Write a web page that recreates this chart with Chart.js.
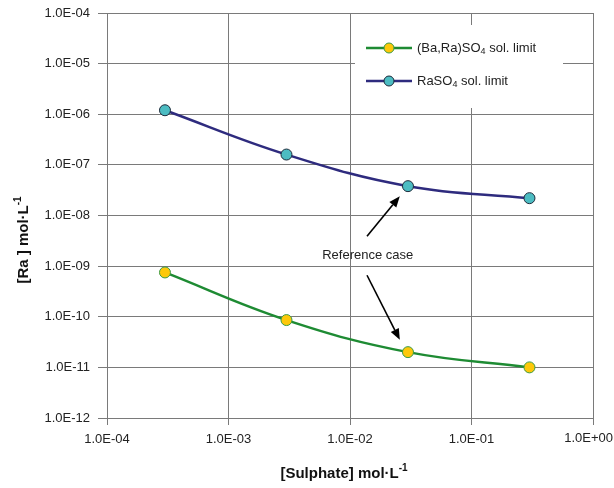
<!DOCTYPE html>
<html>
<head>
<meta charset="utf-8">
<script src="https://cdn.jsdelivr.net/npm/chart.js@4.4.1/dist/chart.umd.min.js"></script>
<style>
  html, body { margin: 0; padding: 0; background: #fff; }
  #wrap { width: 614px; height: 488px; }
</style>
</head>
<body>
<div id="wrap"><canvas id="chart" width="614" height="488"></canvas></div>
<script>
// sulphate concentration (mol/L)
const sulphate = [3e-4, 3e-3, 3e-2, 3e-1];
// Ra concentration limits (mol/L)
const baRaLimit = [7.5e-10, 8.6e-11, 2.0e-11, 1.0e-11];
const raSO4Limit = [1.2e-6, 1.6e-7, 3.8e-8, 2.2e-8];
const xTicks = [1e-4, 1e-3, 1e-2, 1e-1, 1e0];
const yTicks = [1e-12, 1e-11, 1e-10, 1e-9, 1e-8, 1e-7, 1e-6, 1e-5, 1e-4];

// "Reference case" note + arrows, in data units
const noteText = "Reference case";
const notePos = [1.4e-2, 1.65e-9];
const arrows = [
    [[1.38e-2, 3.9e-9], [2.57e-2, 2.4e-8]],
    [[1.38e-2, 6.6e-10], [2.57e-2, 3.5e-11]]
];

const FONT = "'Liberation Sans', Arial, sans-serif";

function sci(v) {
    const e = Math.round(Math.log10(v));
    const sign = e < 0 ? "-" : "+";
    return "1.0E" + sign + String(Math.abs(e)).padStart(2, "0");
}

function pts(ys) {
    return sulphate.map((x, i) => ({ x: x, y: ys[i] }));
}

// draw text with a subscript "4" after "SO"
function drawSub(ctx, parts, x, y, size) {
    parts.forEach(p => {
        if (p.sub) {
            ctx.font = `${size - 4}px ${FONT}`;
            ctx.fillText(p.t, x, y + 4);
        } else {
            ctx.font = `${size}px ${FONT}`;
            ctx.fillText(p.t, x, y);
        }
        x += ctx.measureText(p.t).width;
    });
}

function arrow(ctx, x1, y1, x2, y2) {
    const a = Math.atan2(y2 - y1, x2 - x1);
    const hl = 11, hw = 4.5;
    const bx = x2 - hl * Math.cos(a), by = y2 - hl * Math.sin(a);
    ctx.beginPath();
    ctx.moveTo(x1, y1);
    ctx.lineTo(bx, by);
    ctx.stroke();
    ctx.beginPath();
    ctx.moveTo(x2, y2);
    ctx.lineTo(bx + hw * Math.sin(a), by - hw * Math.cos(a));
    ctx.lineTo(bx - hw * Math.sin(a), by + hw * Math.cos(a));
    ctx.closePath();
    ctx.fill();
}

const extras = {
    id: "extras",
    beforeDatasetsDraw(chart) {
        const ctx = chart.ctx;
        // legend box (white, covers the grid)
        ctx.save();
        ctx.fillStyle = "#fff";
        ctx.fillRect(355, 25, 208, 83);
        const rows = [
            { ds: chart.data.datasets[0], parts: [{ t: "(Ba,Ra)SO" }, { t: "4", sub: true }, { t: " sol. limit" }] },
            { ds: chart.data.datasets[1], parts: [{ t: "RaSO" }, { t: "4", sub: true }, { t: " sol. limit" }] }
        ];
        rows.forEach((r, i) => {
            const y = 48 + i * 33;
            ctx.strokeStyle = r.ds.borderColor;
            ctx.lineWidth = 2.5;
            ctx.beginPath();
            ctx.moveTo(366, y);
            ctx.lineTo(412, y);
            ctx.stroke();
            ctx.beginPath();
            ctx.arc(389, y, 5, 0, Math.PI * 2);
            ctx.fillStyle = r.ds.pointBackgroundColor;
            ctx.fill();
            ctx.lineWidth = 1;
            ctx.strokeStyle = r.ds.pointBorderColor;
            ctx.stroke();
            ctx.fillStyle = "#222";
            ctx.textBaseline = "middle";
            ctx.textAlign = "left";
            drawSub(ctx, r.parts, 417, y, 13);
        });
        ctx.restore();
    },
    afterDraw(chart) {
        const ctx = chart.ctx;
        const xs = chart.scales.x, ys = chart.scales.y;
        ctx.save();
        // last x label is pulled inside the canvas, as in the original
        const last = xTicks[xTicks.length - 1];
        ctx.fillStyle = "#222";
        ctx.font = `13px ${FONT}`;
        ctx.textAlign = "right";
        ctx.textBaseline = "middle";
        ctx.fillText(sci(last), 613, xs.top + 20.5);
        // note and arrows
        ctx.font = `13px ${FONT}`;
        ctx.textAlign = "center";
        ctx.fillText(noteText, xs.getPixelForValue(notePos[0]), ys.getPixelForValue(notePos[1]));
        ctx.strokeStyle = "#000";
        ctx.fillStyle = "#000";
        ctx.lineWidth = 1.6;
        arrows.forEach(a => {
            arrow(ctx, xs.getPixelForValue(a[0][0]), ys.getPixelForValue(a[0][1]),
                xs.getPixelForValue(a[1][0]), ys.getPixelForValue(a[1][1]));
        });
        // axis titles
        ctx.fillStyle = "#111";
        ctx.font = `bold 15px ${FONT}`;
        ctx.textAlign = "left";
        ctx.textBaseline = "alphabetic";
        const xt = "[Sulphate] mol·L";
        const xw = ctx.measureText(xt).width;
        ctx.font = `bold 10px ${FONT}`;
        const sw = ctx.measureText("-1").width;
        let x0 = 344 - (xw + sw) / 2;
        ctx.font = `bold 15px ${FONT}`;
        ctx.fillText(xt, x0, 478);
        ctx.font = `bold 10px ${FONT}`;
        ctx.fillText("-1", x0 + xw, 471);

        ctx.translate(28, 240);
        ctx.rotate(-Math.PI / 2);
        ctx.font = `bold 15px ${FONT}`;
        const yt = "[Ra ] mol·L";
        const yw = ctx.measureText(yt).width;
        let y0 = -(yw + sw) / 2;
        ctx.fillText(yt, y0, 0);
        ctx.font = `bold 10px ${FONT}`;
        ctx.fillText("-1", y0 + yw, -7);
        ctx.restore();
    }
};

new Chart(document.getElementById("chart"), {
    type: "line",
    data: {
        datasets: [
            {
                label: "(Ba,Ra)SO4 sol. limit",
                data: pts(baRaLimit),
                borderColor: "#1e8b33",
                borderWidth: 2.5,
                pointBackgroundColor: "#fdc80a",
                pointBorderColor: "#3a9a45",
                pointBorderWidth: 1,
                pointRadius: 5.5,
                tension: 0.4
            },
            {
                label: "RaSO4 sol. limit",
                data: pts(raSO4Limit),
                borderColor: "#2e2b7e",
                borderWidth: 2.5,
                pointBackgroundColor: "#4cbcc2",
                pointBorderColor: "#1d2a3a",
                pointBorderWidth: 1,
                pointRadius: 5.5,
                tension: 0.4
            }
        ]
    },
    options: {
        responsive: false,
        animation: false,
        layout: { padding: { left: 0, right: 21, top: 13, bottom: 0 } },
        plugins: { legend: { display: false }, tooltip: { enabled: false } },
        scales: {
            x: {
                type: "logarithmic",
                min: 1e-4,
                max: 1,
                afterBuildTicks: s => { s.ticks = xTicks.map(v => ({ value: v })); },
                afterFit: s => { s.height = 70; s.paddingRight = 0; s.paddingLeft = 0; },
                ticks: {
                    callback: v => (v === xTicks[xTicks.length - 1] ? "" : sci(v)),
                    color: "#222", font: { family: FONT, size: 13 }, padding: 7, maxRotation: 0
                },
                grid: { color: "#7a7a7a", lineWidth: 1, tickLength: 7, drawTicks: true },
                border: { display: false }
            },
            y: {
                type: "logarithmic",
                min: 1e-12,
                max: 1e-4,
                afterBuildTicks: s => { s.ticks = yTicks.map(v => ({ value: v })); },
                afterFit: s => { s.width = 107; s.paddingTop = 0; s.paddingBottom = 0; },
                ticks: { callback: v => sci(v), color: "#222", font: { family: FONT, size: 13 }, padding: 8 },
                grid: { color: "#7a7a7a", lineWidth: 1, tickLength: 9, drawTicks: true },
                border: { display: false }
            }
        }
    },
    plugins: [extras]
});
</script>
</body>
</html>
